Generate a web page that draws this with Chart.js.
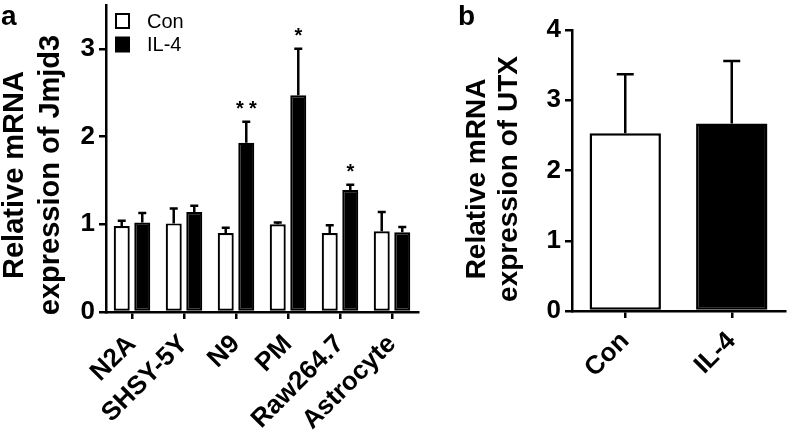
<!DOCTYPE html>
<html>
<head>
<meta charset="utf-8">
<script src="https://cdn.jsdelivr.net/npm/chart.js@4.4.1/dist/chart.umd.min.js"></script>
<style>
  html, body { margin: 0; padding: 0; background: #fff; }
  #wrap { position: relative; width: 789px; height: 432px; overflow: hidden; }
  canvas { position: absolute; top: 0; }
  #chart-a { left: 0; }
  #chart-b { left: 440px; }
</style>
</head>
<body>
<div id="wrap">
  <canvas id="chart-a" width="440" height="432"></canvas>
  <canvas id="chart-b" width="349" height="432"></canvas>
</div>
<script>
// panel a: Jmjd3 in six cell types
const cellLines = ["N2A", "SHSY-5Y", "N9", "PM", "Raw264.7", "Astrocyte"];
const conJmjd3 = [0.98, 1.01, 0.90, 1.00, 0.90, 0.92];
const conJmjd3Err = [0.06, 0.17, 0.06, 0.02, 0.09, 0.22];
const il4Jmjd3 = [1.02, 1.14, 1.93, 2.47, 1.39, 0.91];
const il4Jmjd3Err = [0.11, 0.07, 0.24, 0.53, 0.06, 0.06];
const il4Stars = ["", "", "**", "*", "*", ""];
const jmjd3Ticks = [0, 1, 2, 3];

// panel b: UTX
const utxGroups = ["Con", "IL-4"];
const utxValues = [2.53, 2.67];
const utxErr = [0.84, 0.89];
const utxTicks = [0, 1, 2, 3, 4];

const FONT = "'Liberation Sans', Arial, Helvetica, sans-serif";

const errorBars = {
  id: "errorBars",
  afterDatasetsDraw(chart, args, opts) {
    const { ctx } = chart;
    const yScale = chart.scales.y;
    const cap = opts.capWidth || 8;
    chart.data.datasets.forEach((ds, di) => {
      if (!ds.errors) return;
      chart.getDatasetMeta(di).data.forEach((bar, i) => {
        const top = yScale.getPixelForValue(ds.data[i] + ds.errors[i]);
        ctx.save();
        ctx.strokeStyle = "#000";
        ctx.lineWidth = 2.5;
        ctx.beginPath();
        ctx.moveTo(bar.x, bar.y);
        ctx.lineTo(bar.x, top);
        ctx.moveTo(bar.x - cap / 2, top);
        ctx.lineTo(bar.x + cap / 2, top);
        ctx.stroke();
        const stars = ds.stars ? ds.stars[i] : "";
        if (stars) {
          ctx.fillStyle = "#000";
          ctx.font = "bold 20px " + FONT;
          ctx.textAlign = "center";
          ctx.textBaseline = "alphabetic";
          const gap = 13;
          const x0 = bar.x - (gap * (stars.length - 1)) / 2;
          for (let k = 0; k < stars.length; k++) {
            ctx.fillText("*", x0 + k * gap, top - 18 + 11.6);
          }
        }
        ctx.restore();
      });
    });
  },
};

// panel letter, two-line y title and the boxed legend
const panelText = {
  id: "panelText",
  afterDraw(chart, args, opts) {
    const { ctx } = chart;
    ctx.save();
    ctx.fillStyle = "#000";
    ctx.font = "bold 28px " + FONT;
    ctx.textAlign = "left";
    ctx.textBaseline = "alphabetic";
    ctx.fillText(opts.letter, opts.letterX, 25);

    ctx.font = "bold " + opts.titleSize + "px " + FONT;
    ctx.textAlign = "center";
    ctx.textBaseline = "middle";
    opts.title.forEach((line, k) => {
      ctx.save();
      ctx.translate(opts.titleX[k], opts.titleY);
      ctx.rotate(-Math.PI / 2);
      ctx.fillText(line, 0, 0);
      ctx.restore();
    });

    if (opts.legend) {
      const lg = opts.legend;
      ctx.font = "20px " + FONT;
      ctx.textAlign = "left";
      ctx.textBaseline = "middle";
      chart.data.datasets.forEach((ds, k) => {
        const cy = lg.y + k * lg.gap;
        ctx.fillStyle = ds.backgroundColor;
        ctx.fillRect(lg.x, cy - 7, 13, 14);
        ctx.strokeStyle = ds.borderColor;
        ctx.lineWidth = 2;
        ctx.strokeRect(lg.x, cy - 7, 13, 14);
        ctx.fillStyle = "#000";
        ctx.fillText(ds.label, lg.textX, cy + 1);
      });
    }
    ctx.restore();
  },
};

function yAxis(max, ticks, width) {
  return {
    min: 0,
    max: max,
    afterBuildTicks: (scale) => {
      scale.ticks = ticks.map((v) => ({ value: v }));
    },
    afterFit: (scale) => {
      scale.width = width;
      scale.paddingTop = 0;
      scale.paddingBottom = 0;
    },
    border: { display: true, color: "#000", width: 2.5 },
    grid: { display: true, drawOnChartArea: false, drawTicks: true, tickLength: 7, color: "#000", lineWidth: 2.5 },
    ticks: { color: "#000", padding: 4, font: { family: FONT, size: 26, weight: "bold" } },
  };
}

function xAxis(height, size, pad) {
  return {
    afterFit: (scale) => {
      scale.height = height;
      scale.paddingLeft = 0;
      scale.paddingRight = 0;
    },
    border: { display: true, color: "#000", width: 2.5 },
    grid: { display: true, offset: false, drawOnChartArea: false, drawTicks: true, tickLength: 7, color: "#000", lineWidth: 2.5 },
    ticks: {
      color: "#000",
      autoSkip: false,
      minRotation: 45,
      maxRotation: 45,
      padding: pad,
      font: { family: FONT, size: size, weight: "bold" },
    },
  };
}

new Chart(document.getElementById("chart-a"), {
  type: "bar",
  data: {
    labels: cellLines,
    datasets: [
      {
        label: "Con",
        data: conJmjd3,
        errors: conJmjd3Err,
        backgroundColor: "#fff",
        borderColor: "#000",
        borderWidth: 2.2,
        borderSkipped: false,
      },
      {
        label: "IL-4",
        data: il4Jmjd3,
        errors: il4Jmjd3Err,
        stars: il4Stars,
        backgroundColor: "#000",
        borderColor: "#000",
        borderWidth: 2.2,
        borderSkipped: false,
      },
    ],
  },
  options: {
    responsive: false,
    animation: false,
    categoryPercentage: 0.79,
    barPercentage: 0.78,
    layout: { padding: { left: 0, right: 22, top: 5, bottom: 0 } },
    plugins: {
      legend: { display: false },
      tooltip: { enabled: false },
      errorBars: { capWidth: 8 },
      panelText: {
        letter: "a", letterX: 1,
        title: ["Relative mRNA", "expression of Jmjd3"], titleX: [15, 51], titleY: 175, titleSize: 29,
        legend: { x: 116, y: 21, gap: 23.5, textX: 147 },
      },
    },
    scales: {
      x: xAxis(120, 26, 10),
      y: yAxis(3.5, jmjd3Ticks, 106),
    },
  },
  plugins: [errorBars, panelText],
});

new Chart(document.getElementById("chart-b"), {
  type: "bar",
  data: {
    labels: utxGroups,
    datasets: [
      {
        label: "UTX",
        data: utxValues,
        errors: utxErr,
        backgroundColor: ["#fff", "#000"],
        borderColor: "#000",
        borderWidth: 2.5,
        borderSkipped: false,
      },
    ],
  },
  options: {
    responsive: false,
    animation: false,
    categoryPercentage: 1,
    barPercentage: 0.67,
    layout: { padding: { left: 0, right: 4, top: 30, bottom: 0 } },
    plugins: {
      legend: { display: false },
      tooltip: { enabled: false },
      errorBars: { capWidth: 17 },
      panelText: {
        letter: "b", letterX: 18,
        title: ["Relative mRNA", "expression of UTX"], titleX: [37, 69], titleY: 179, titleSize: 28,
      },
    },
    scales: {
      x: xAxis(121, 26, 8),
      y: yAxis(4, utxTicks, 132),
    },
  },
  plugins: [errorBars, panelText],
});
</script>
</body>
</html>
